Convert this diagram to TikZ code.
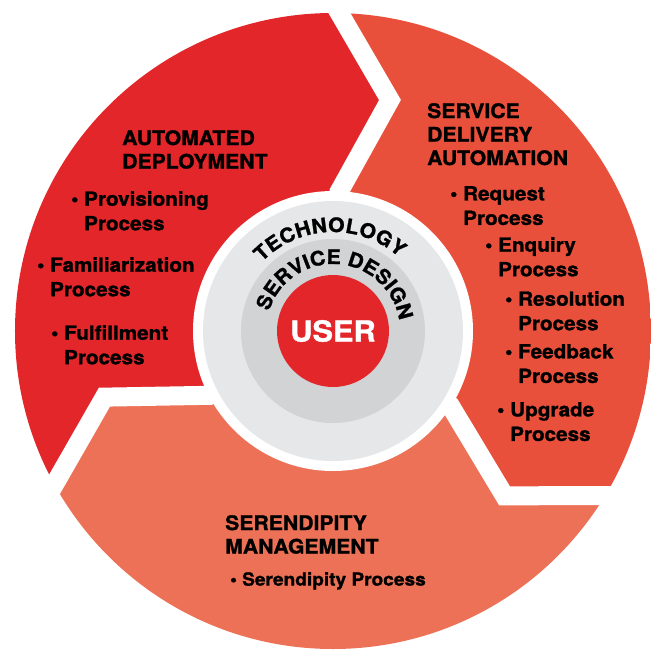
\documentclass[tikz,border=0pt]{standalone}
\usepackage{fontspec}
\setmainfont{TeX Gyre Heros}[FakeStretch=1.06, BoldFeatures={FakeBold=1.2}]
\usetikzlibrary{decorations.text}
\usepackage{xcolor}

\definecolor{adred}{HTML}{E3262A}
\definecolor{sdaorange}{HTML}{E9503B}
\definecolor{serorange}{HTML}{EC7156}
\definecolor{ringlight}{HTML}{E6E7E8}
\definecolor{ringdark}{HTML}{D1D3D4}
\newcommand{\bitem}[2]{\textbullet\ #1\\\phantom{\textbullet\ }#2}

\begin{document}
\begin{tikzpicture}[x=1pt, y=1pt,
		head/.style={anchor=north west, inner sep=0pt, align=left, font=\fontsize{20}{23.5}\selectfont\bfseries},
		proc/.style={anchor=north west, inner sep=0pt, align=left, font=\fontsize{19.5}{24.5}\selectfont\bfseries},
		gapline/.style={draw=white, line width=19pt, line join=miter},
		arctext/.style={decorate, decoration={text along path, text align={fit to path}}}]
			\useasboundingbox (-333,-318) rectangle (318,331);
			\coordinate (c) at (0,0);
			
			% chevron borders, one every 120 degrees
			\foreach \seg/\ang in {top/0, left/120, right/-120} {
				\begin{scope}[rotate=\ang]
					\coordinate (\seg-in) at (6,139);
					\coordinate (\seg-tip) at (57,231);
					\coordinate (\seg-out) at (-14,353);
				\end{scope}
			}
			
			\begin{scope}
				\clip (c) circle (318);
				\fill[adred] (c) -- (top-in) -- (top-tip) -- (top-out) -- (-400,400) -- (-420,-240) -- (left-out) -- (left-tip) -- (left-in) -- cycle;
				\fill[sdaorange] (c) -- (top-in) -- (top-tip) -- (top-out) -- (400,400) -- (420,-240) -- (right-out) -- (right-tip) -- (right-in) -- cycle;
				\fill[serorange] (c) -- (left-in) -- (left-tip) -- (left-out) -- (-420,-420) -- (420,-420) -- (right-out) -- (right-tip) -- (right-in) -- cycle;
			\end{scope}
			\foreach \seg in {top, left, right}
				\draw[gapline] (c) -- (\seg-in) -- (\seg-tip) -- (\seg-out);
			
			% hub
			\fill[white] (c) circle (140);
			\fill[ringlight] (c) circle (130);
			\fill[ringdark] (c) circle (92);
			\node[circle, fill=adred, minimum size=112pt, inner sep=0pt, text=white, font=\fontsize{29}{29}\selectfont\bfseries] (user) at (c) {USER};
			\path[arctext, decoration={text={|\fontsize{20}{20}\selectfont\bfseries|TECHNOLOGY}}] (136:99) arc[start angle=136, end angle=48, radius=99];
			\path[arctext, decoration={text={|\fontsize{20}{20}\selectfont\bfseries|SERVICE DESIGN}}] (163:67) arc[start angle=163, end angle=9, radius=67];
			
			% automated deployment
			\node[head] (adhead) at (-211,201) {AUTOMATED\\DEPLOYMENT};
			\node[proc] (prov) at (-262,140) {\bitem{Provisioning}{Process}};
			\node[proc] (fam) at (-296,74) {\bitem{Familiarization}{Process}};
			\node[proc] (fulf) at (-282,6) {\bitem{Fulfillment}{Process}};
			
			% service delivery automation
			\node[head] (sdahead) at (94,228) {SERVICE\\DELIVERY\\AUTOMATION};
			\node[proc] (req) at (117,145) {\bitem{Request}{Process}};
			\node[proc] (enq) at (152,94) {\bitem{Enquiry}{Process}};
			\node[proc] (res) at (172,40) {\bitem{Resolution}{Process}};
			\node[proc] (feed) at (172,-13) {\bitem{Feedback}{Process}};
			\node[proc] (upg) at (164,-71) {\bitem{Upgrade}{Process}};
			
			% serendipity management
			\node[head] (serhead) at (-108,-184) {SERENDIPITY\\MANAGEMENT};
			\node[proc, font=\fontsize{18}{22}\selectfont\bfseries] (serproc) at (-103,-241) {\textbullet\ Serendipity Process};
\end{tikzpicture}
\end{document}
